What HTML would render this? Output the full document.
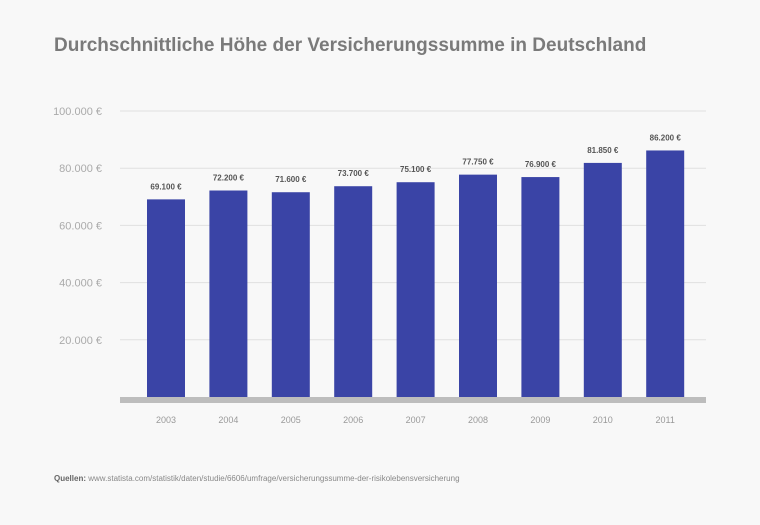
<!DOCTYPE html>
<html><head><meta charset="utf-8"><style>
body{margin:0;background:#f8f8f8;}
svg{display:block;font-family:"Liberation Sans",sans-serif;}
</style></head><body>
<svg id="c" width="760" height="525" viewBox="0 0 760 525">
<rect width="760" height="525" fill="#f8f8f8"/>
<text x="54" y="51" font-size="19" font-weight="bold" fill="#7a7a7a">Durchschnittliche Höhe der Versicherungssumme in Deutschland</text>
<g id="grid"></g><g id="bars"></g>
<rect x="120" y="397" width="586" height="6" fill="#bdbdbd"/>
<text x="54" y="481" font-size="8" fill="#888"><tspan font-weight="bold" fill="#666">Quellen:</tspan> www.statista.com/statistik/daten/studie/6606/umfrage/versicherungssumme-der-risikolebensversicherung</text>
</svg>
<script>
const categories=["2003","2004","2005","2006","2007","2008","2009","2010","2011"];
const values=[69100,72200,71600,73700,75100,77750,76900,81850,86200];
const valueLabels=["69.100 €","72.200 €","71.600 €","73.700 €","75.100 €","77.750 €","76.900 €","81.850 €","86.200 €"];
const yTicks=[20000,40000,60000,80000,100000];
const yTickLabels=["20.000 €","40.000 €","60.000 €","80.000 €","100.000 €"];
const NS="http://www.w3.org/2000/svg";
const y=v=>397-v/20000*57.2;
const x=i=>166+i*62.4;
const grid=document.getElementById('grid'),bars=document.getElementById('bars');
function mk(tag,attrs,parent,txt){const e=document.createElementNS(NS,tag);for(const k in attrs)e.setAttribute(k,attrs[k]);if(txt!==undefined)e.textContent=txt;parent.appendChild(e);return e;}
yTicks.forEach((t,i)=>{
 const l=mk('line',{x1:120,x2:706,y1:y(t),y2:y(t),stroke:'#e0e0e0','stroke-width':1},grid);
 
 
 const tx=mk('text',{x:102,y:y(t)+4,'font-size':11,fill:'#aaa','text-anchor':'end'},grid,yTickLabels[i]);
 
 
});
categories.forEach((c,i)=>{
 const b=mk('rect',{x:x(i)-19,y:y(values[i]),width:38,height:397-y(values[i]),fill:'#3a44a6'},bars);
 
 
 const v=mk('text',{x:x(i),y:y(values[i])-10,'font-size':8,'font-weight':'bold',fill:'#555','text-anchor':'middle'},bars,valueLabels[i]);
 
 
 const t=mk('text',{x:x(i),y:423,'font-size':9,fill:'#999','text-anchor':'middle'},bars,c);
 
 
});
</script>
</body></html>
